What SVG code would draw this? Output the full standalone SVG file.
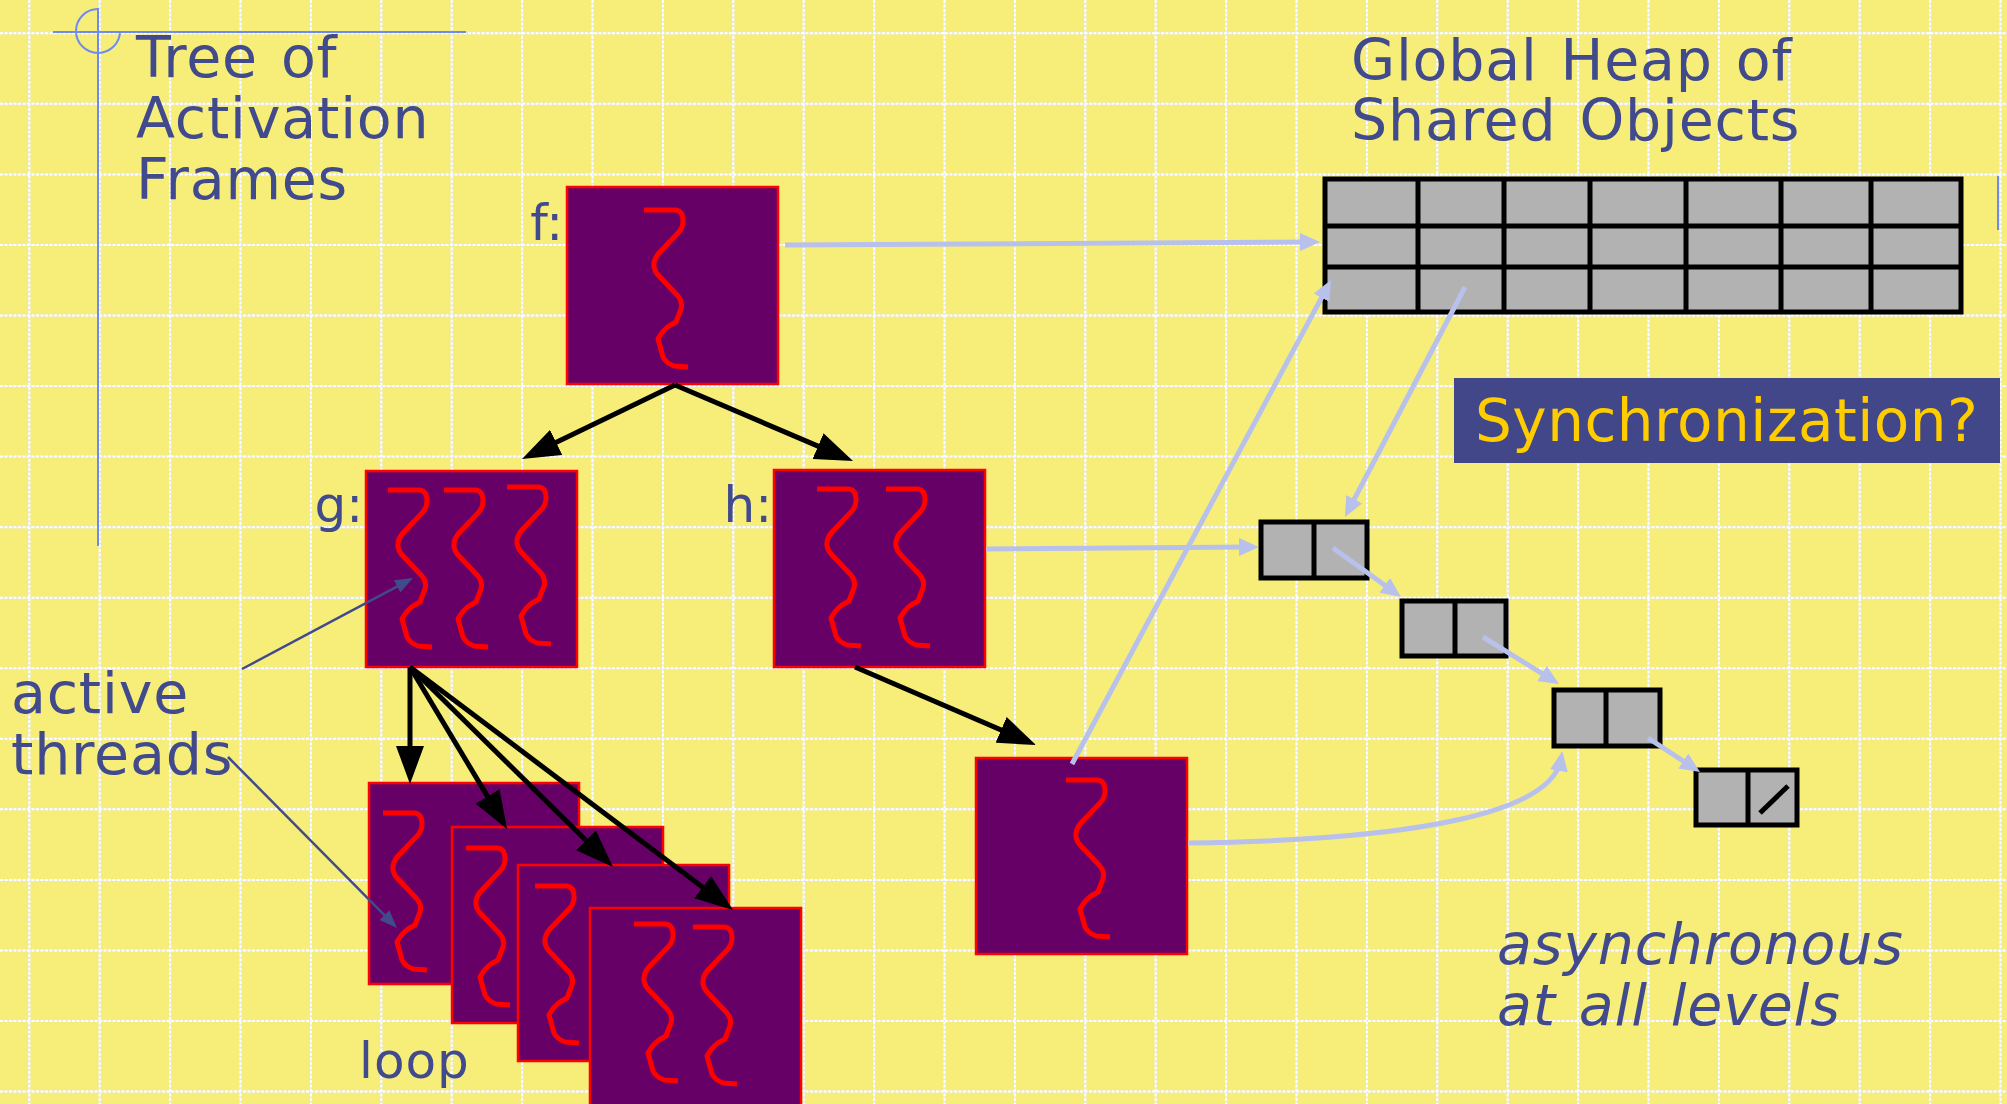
<svg xmlns="http://www.w3.org/2000/svg" xmlns:xlink="http://www.w3.org/1999/xlink" width="2007" height="1104" viewBox="0 0 2007 1104">
  <style>
    .txt { font-family: "DejaVu Sans", "Verdana", sans-serif; fill: #414A8C; }
    .big { font-size: 57px; letter-spacing: 0.8px; word-spacing: 4px; }
    .lbl { font-size: 50px; }
    .ital { font-style: italic; }
    .frame { fill: #660066; stroke: #FF0000; stroke-width: 2.5; }
    .thr { fill: none; stroke: #FF0000; stroke-width: 5; stroke-linejoin: round; stroke-linecap: butt; }
    .cell { fill: #B2B2B2; stroke: #000000; stroke-width: 5; }
    .div { stroke: #000000; stroke-width: 5; }
    .deco { stroke: #6E8BF0; stroke-width: 2; fill: none; }
    .grid-base { stroke: #E2E4F2; stroke-width: 2; fill: none; }
    .grid-dash { stroke: #FFFFFF; stroke-width: 2; fill: none; stroke-dasharray: 3 1.5; }
    .blk { stroke: #000000; stroke-width: 5; fill: none; marker-end: url(#headBlack); }
    .lb { stroke: #B8C0EC; stroke-width: 5; fill: none; marker-end: url(#headBlue); }
    .nv { stroke: #414A8C; stroke-width: 2.5; fill: none; marker-end: url(#headNavy); }
  </style>
  <defs>
    <path id="gridlines" d="M29.3,0V1104 M99.7,0V1104 M170.1,0V1104 M240.5,0V1104 M310.9,0V1104 M381.3,0V1104 M451.7,0V1104 M522.1,0V1104 M592.5,0V1104 M662.9,0V1104 M733.3,0V1104 M803.7,0V1104 M874.1,0V1104 M944.5,0V1104 M1014.9,0V1104 M1085.3,0V1104 M1155.7,0V1104 M1226.1,0V1104 M1296.5,0V1104 M1366.9,0V1104 M1437.3,0V1104 M1507.7,0V1104 M1578.1,0V1104 M1648.5,0V1104 M1718.9,0V1104 M1789.3,0V1104 M1859.7,0V1104 M1930.1,0V1104 M2000.5,0V1104 M0,33.3H2007 M0,103.85H2007 M0,174.4H2007 M0,244.95H2007 M0,315.5H2007 M0,386.05H2007 M0,456.6H2007 M0,527.15H2007 M0,597.7H2007 M0,668.25H2007 M0,738.8H2007 M0,809.35H2007 M0,879.9H2007 M0,950.45H2007 M0,1021H2007 M0,1091.55H2007"/>
    <path id="thread" class="thr" d="M0,0 H32 Q39,1 39,11 Q39,17 35,22 L15,43 Q9,50 10,57 Q11,62 15,66 L34,86 Q39,92 37,99 L32,112 L25,116 Q19,120 14,129 L19,147 Q22,153 30,156 L44,157"/>
    <marker id="headBlack" markerUnits="userSpaceOnUse" viewBox="0 0 38 28" markerWidth="38" markerHeight="28" refX="28" refY="14" orient="auto">
      <path d="M0,0 L38,14 L0,28 Z" fill="#000000"/>
    </marker>
    <marker id="headBlue" markerUnits="userSpaceOnUse" viewBox="0 0 20 18" markerWidth="20" markerHeight="18" refX="12" refY="9" orient="auto">
      <path d="M0,0 L20,9 L0,18 Z" fill="#B8C0EC"/>
    </marker>
    <marker id="headNavy" markerUnits="userSpaceOnUse" viewBox="0 0 18 14" markerWidth="18" markerHeight="14" refX="12" refY="7" orient="auto">
      <path d="M0,0 L18,7 L0,14 Z" fill="#414A8C"/>
    </marker>
  </defs>

  <!-- slide background with grid -->
  <rect x="0" y="0" width="2007" height="1104" fill="#F7EE79"/>
  <use xlink:href="#gridlines" class="grid-base"/>
  <use xlink:href="#gridlines" class="grid-dash"/>

  <!-- title ornament -->
  <g id="ornament">
    <line class="deco" x1="98" y1="8" x2="98" y2="546"/>
    <line class="deco" x1="53" y1="32" x2="466" y2="32"/>
    <path class="deco" d="M98,9 A22,22 0 1 0 120,31"/>
    <line class="deco" x1="1998" y1="176" x2="1998" y2="230"/>
  </g>

  <g id="title-tree">
    <text class="txt big" x="136" y="77">Tree of</text>
    <text class="txt big" x="136" y="138">Activation</text>
    <text class="txt big" x="136" y="199">Frames</text>
  </g>

  <g id="title-heap">
    <text class="txt big" x="1351" y="80">Global Heap of</text>
    <text class="txt big" x="1351" y="140">Shared Objects</text>
  </g>

  <!-- activation frames -->
  <g id="frame-f">
    <text class="txt lbl" x="563" y="240" text-anchor="end">f:</text>
    <rect class="frame" x="567" y="187" width="211" height="197"/>
    <use xlink:href="#thread" x="644" y="210"/>
  </g>

  <g id="frame-g">
    <text class="txt lbl" x="363" y="522" text-anchor="end">g:</text>
    <rect class="frame" x="366" y="471" width="211" height="196"/>
    <use xlink:href="#thread" x="388" y="490"/>
    <use xlink:href="#thread" x="444" y="490"/>
    <use xlink:href="#thread" x="507" y="487"/>
  </g>

  <g id="frame-h">
    <text class="txt lbl" x="772" y="522" text-anchor="end">h:</text>
    <rect class="frame" x="774" y="470" width="211" height="197"/>
    <use xlink:href="#thread" x="817" y="489"/>
    <use xlink:href="#thread" x="886" y="489"/>
  </g>

  <g id="frame-hchild">
    <rect class="frame" x="976" y="758" width="211" height="196"/>
    <use xlink:href="#thread" x="1066" y="780"/>
  </g>

  <g id="loop-1">
    <rect class="frame" x="369" y="783" width="210" height="201"/>
    <use xlink:href="#thread" x="383" y="813"/>
  </g>
  <g id="loop-2">
    <rect class="frame" x="452" y="827" width="211" height="196"/>
    <use xlink:href="#thread" x="466" y="848"/>
  </g>
  <g id="loop-3">
    <rect class="frame" x="518" y="865" width="211" height="196"/>
    <use xlink:href="#thread" x="535" y="886"/>
  </g>
  <g id="loop-4">
    <rect class="frame" x="590" y="908" width="211" height="200"/>
    <use xlink:href="#thread" x="634" y="924"/>
    <use xlink:href="#thread" x="693" y="927"/>
  </g>

  <g id="loop-label">
    <text class="txt lbl" x="359" y="1078" letter-spacing="1">loop</text>
  </g>

  <!-- shared heap table -->
  <g id="heap">
    <rect class="cell" x="1325" y="179" width="636" height="133"/>
    <line class="div" x1="1325" y1="226" x2="1961" y2="226"/>
    <line class="div" x1="1325" y1="267" x2="1961" y2="267"/>
    <line class="div" x1="1418" y1="179" x2="1418" y2="312"/>
    <line class="div" x1="1504" y1="179" x2="1504" y2="312"/>
    <line class="div" x1="1590" y1="179" x2="1590" y2="312"/>
    <line class="div" x1="1686" y1="179" x2="1686" y2="312"/>
    <line class="div" x1="1781" y1="179" x2="1781" y2="312"/>
    <line class="div" x1="1871" y1="179" x2="1871" y2="312"/>
  </g>

  <!-- linked list cells -->
  <g id="cell-1">
    <rect class="cell" x="1261" y="522" width="106" height="56"/>
    <line class="div" x1="1314" y1="522" x2="1314" y2="578"/>
  </g>
  <g id="cell-2">
    <rect class="cell" x="1402" y="601" width="104" height="55"/>
    <line class="div" x1="1455" y1="601" x2="1455" y2="656"/>
  </g>
  <g id="cell-3">
    <rect class="cell" x="1554" y="690" width="106" height="56"/>
    <line class="div" x1="1606" y1="690" x2="1606" y2="746"/>
  </g>
  <g id="cell-4">
    <rect class="cell" x="1696" y="770" width="101" height="55"/>
    <line class="div" x1="1748" y1="770" x2="1748" y2="825"/>
    <line class="div" x1="1760" y1="813" x2="1788" y2="786"/>
  </g>

  <g id="sync-box">
    <rect x="1454" y="378" width="546" height="85" fill="#414789"/>
    <text x="1475" y="441" font-family="DejaVu Sans, Verdana, sans-serif" font-size="58" letter-spacing="0.5" fill="#FFCC00">Synchronization?</text>
  </g>

  <g id="active-threads">
    <text class="txt big" x="11" y="713">active</text>
    <text class="txt big" x="11" y="774">threads</text>
  </g>

  <g id="async-note">
    <text class="txt big ital" x="1497" y="964">asynchronous</text>
    <text class="txt big ital" x="1497" y="1025">at all levels</text>
  </g>

  <!-- connectors -->
  <g id="connectors">
    <!-- call tree -->
    <line class="blk" x1="675" y1="385" x2="531" y2="454.6"/>
    <line class="blk" x1="675" y1="385" x2="843.8" y2="457.1"/>
    <line class="blk" x1="410" y1="667" x2="410" y2="774"/>
    <line class="blk" x1="410" y1="667" x2="501.9" y2="820.4"/>
    <line class="blk" x1="410" y1="667" x2="605.9" y2="860"/>
    <line class="blk" x1="410" y1="667" x2="725" y2="904"/>
    <line class="blk" x1="855" y1="667" x2="1026.8" y2="741"/>

    <!-- references into the heap -->
    <line class="lb" x1="785" y1="245" x2="1312" y2="242"/>
    <line class="lb" x1="1072" y1="764" x2="1327.2" y2="287.1"/>
    <line class="lb" x1="1465" y1="287" x2="1348.7" y2="509.9"/>
    <line class="lb" x1="986" y1="549" x2="1251" y2="547"/>
    <line class="lb" x1="1333" y1="548" x2="1394.5" y2="592.3"/>
    <line class="lb" x1="1483" y1="637" x2="1552.2" y2="679.8"/>
    <line class="lb" x1="1648" y1="738" x2="1693.3" y2="767.6"/>
    <path class="lb" d="M1188,843 C1420,840 1552,812 1561,759"/>

    <!-- label pointers -->
    <line class="nv" x1="242" y1="669" x2="407.7" y2="580.8"/>
    <line class="nv" x1="228" y1="757" x2="392.8" y2="923.7"/>
  </g>
</svg>
